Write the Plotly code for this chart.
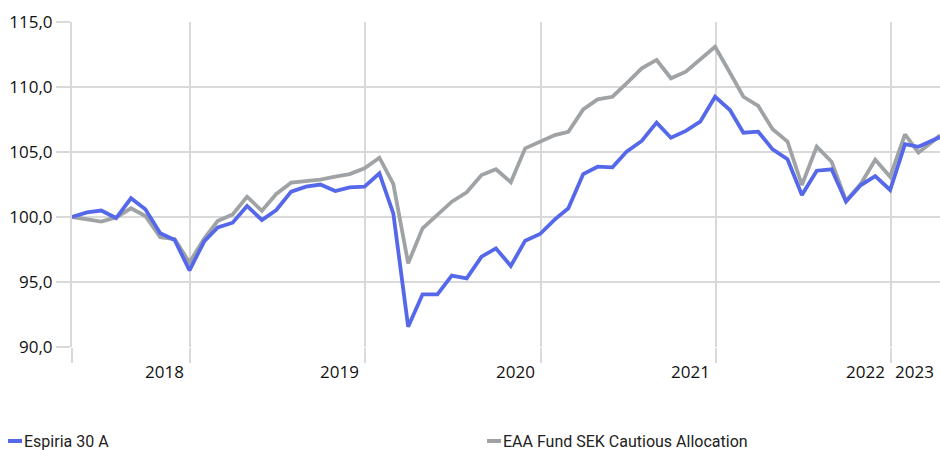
import pandas as pd
import plotly.graph_objects as go

# ---- data ----
monthly_dates = list(pd.date_range("2018-04-30", "2023-03-31", freq="ME").strftime("%Y-%m-%d"))
dates = monthly_dates + ["2023-04-14"]

espiria = [100.0, 100.36, 100.5, 99.92, 101.44, 100.6, 98.75, 98.23, 95.9,
           98.15, 99.2, 99.56, 100.85, 99.77, 100.54, 101.95, 102.33, 102.5, 102.0, 102.28, 102.33,
           103.36, 100.28, 91.56, 94.05, 94.05, 95.49, 95.28, 96.95, 97.59, 96.23, 98.18, 98.69,
           99.82, 100.67, 103.3, 103.87, 103.82, 105.05, 105.85, 107.26, 106.1, 106.62, 107.33, 109.25,
           108.23, 106.48, 106.56, 105.2, 104.44, 101.69, 103.56, 103.67, 101.18, 102.46, 103.15, 102.08,
           105.6, 105.4, 105.95, 106.15]

eaa = [100.0, 99.82, 99.64, 99.97, 100.67, 100.08, 98.44, 98.3, 96.5,
       98.36, 99.7, 100.2, 101.56, 100.48, 101.77, 102.64, 102.77, 102.88, 103.1, 103.3, 103.74,
       104.56, 102.55, 96.44, 99.13, 100.15, 101.18, 101.9, 103.23, 103.67, 102.67, 105.28, 105.8,
       106.3, 106.56, 108.28, 109.05, 109.25, 110.3, 111.44, 112.08, 110.67, 111.18, 112.13, 113.1,
       111.1, 109.25, 108.54, 106.75, 105.8, 102.46, 105.41, 104.25, 101.25, 102.55, 104.4, 103.1,
       106.36, 104.95, 105.85, 106.3]

series_names = ["Espiria 30 A", "EAA Fund SEK Cautious Allocation"]
year_labels = ["2018", "2019", "2020", "2021", "2022", "2023"]
year_label_anchor = ["2019-01-01", "2020-01-01", "2021-01-01", "2022-01-01", "2023-01-01", "2023-04-14"]
x_grid = ["2018-04-30", "2019-01-01", "2020-01-01", "2021-01-01", "2022-01-01", "2023-01-01"]
y_ticks = [90, 95, 100, 105, 110, 115]

BLUE = "#5668EA"
GRAY = "#A0A3A6"
GRID = "#D9D9D9"

fig = go.Figure()
fig.add_trace(go.Scatter(x=dates, y=eaa, mode="lines", name=series_names[1],
                         line=dict(color=GRAY, width=3.8), showlegend=False))
fig.add_trace(go.Scatter(x=dates, y=espiria, mode="lines", name=series_names[0],
                         line=dict(color=BLUE, width=3.8), showlegend=False))

tick_font = dict(family="Open Sans, sans-serif", size=17, color="#111111")

fig.update_layout(
    width=940, height=450,
    margin=dict(l=72, r=0, t=22, b=103),
    paper_bgcolor="white", plot_bgcolor="white",
    separators=", ",
    xaxis=dict(type="date", range=["2018-04-30", "2023-04-14"],
               tickvals=x_grid, ticktext=[""] * len(x_grid),
               showgrid=True, gridcolor=GRID, gridwidth=2,
               ticks="outside", ticklen=15, tickcolor=GRID, tickwidth=2,
               zeroline=False, showline=False),
    yaxis=dict(range=[90, 115], tickvals=y_ticks, tickformat=".1f",
               showgrid=True, gridcolor=GRID, gridwidth=2,
               ticks="outside", ticklen=14, tickcolor=GRID, tickwidth=2,
               zeroline=False, showline=True, linecolor=GRID, linewidth=2,
               tickfont=tick_font),
)

# year labels, right aligned to the end of each year segment
for lab, anc in zip(year_labels, year_label_anchor):
    fig.add_annotation(x=anc, xref="x", y=-0.074, yref="paper", text=lab,
                       showarrow=False, xanchor="right", yanchor="middle",
                       xshift=-4, font=tick_font)

# custom legend
plot_w = 940 - 72
legend_font = dict(family="Roboto, sans-serif", size=16, color="#222222")
legend_items = [(series_names[0], BLUE, 8), (series_names[1], GRAY, 487)]
for name, col, px in legend_items:
    x0 = (px - 72) / plot_w
    x1 = (px + 14 - 72) / plot_w
    fig.add_shape(type="line", xref="paper", yref="paper", x0=x0, x1=x1,
                  y0=(347 - 441) / 325, y1=(347 - 441) / 325,
                  line=dict(color=col, width=4))
    fig.add_annotation(x=(px + 14 - 72) / plot_w, xref="paper", y=(347 - 441) / 325, yref="paper",
                       text=name, showarrow=False, xanchor="left", yanchor="middle",
                       font=legend_font)

fig.write_html("out.html", config={"displayModeBar": False},
               post_script="document.body.style.margin='0';document.body.style.padding='0';")
